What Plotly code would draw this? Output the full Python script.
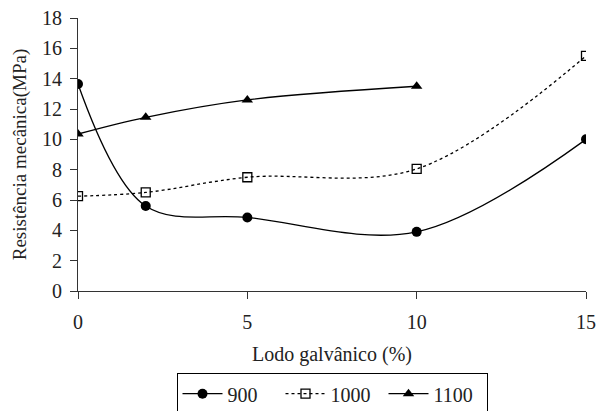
import plotly.graph_objects as go

x900 = [0, 2, 5, 10, 15]
y900 = [13.65, 5.6, 4.85, 3.9, 10.0]
x1000 = [0, 2, 5, 10, 15]
y1000 = [6.25, 6.5, 7.5, 8.05, 15.5]
x1100 = [0, 2, 5, 10]
y1100 = [10.35, 11.45, 12.6, 13.5]

font = "Liberation Serif"
fig = go.Figure()
fig.add_trace(go.Scatter(x=x900, y=y900, name="900", mode="lines+markers",
    line=dict(color="black", width=1.3, shape="spline", smoothing=1.0),
    marker=dict(symbol="circle", size=10, color="black")))
fig.add_trace(go.Scatter(x=x1000, y=y1000, name="1000", mode="lines+markers",
    line=dict(color="black", width=1.3, dash="dot", shape="spline", smoothing=1.0),
    marker=dict(symbol="square-open", size=9, color="black", line=dict(width=1.3))))
fig.add_trace(go.Scatter(x=x1100, y=y1100, name="1100", mode="lines+markers",
    line=dict(color="black", width=1.3, shape="spline", smoothing=1.0),
    marker=dict(symbol="triangle-up", size=10, color="black")))

fig.update_layout(
    width=598, height=411,
    margin=dict(l=78, r=12, t=18, b=120),
    paper_bgcolor="white", plot_bgcolor="white",
    font=dict(family=font, size=20, color="#222"),
    showlegend=True,
    legend=dict(orientation="h", x=0.5, xanchor="center", xref="paper",
                y=0.092, yanchor="top", yref="container",
                bordercolor="black", borderwidth=1, font=dict(size=20),
                itemwidth=40, entrywidth=48, tracegroupgap=0),
    xaxis=dict(range=[0, 15], tickvals=[0, 5, 10, 15], showline=True, linecolor="#333",
               linewidth=1, ticks="outside", ticklen=7, tickcolor="#333", showgrid=False,
               zeroline=False, automargin=False, ticklabelstandoff=6,
               title=dict(text="Lodo galvânico (%)", font=dict(size=20), standoff=14)),
    yaxis=dict(range=[0, 18], tickvals=list(range(0, 19, 2)), showline=True, linecolor="#333",
               linewidth=1, ticks="outside", ticklen=7, tickcolor="#333", showgrid=False,
               zeroline=False, automargin=False, ticklabelstandoff=4,
               title=dict(text="Resistência mecânica(MPa)", font=dict(size=19), standoff=10)),
)
fig.write_html("out.html", config={"displayModeBar": False},
               post_script="document.body.style.margin='0';document.body.style.overflow='hidden';")
